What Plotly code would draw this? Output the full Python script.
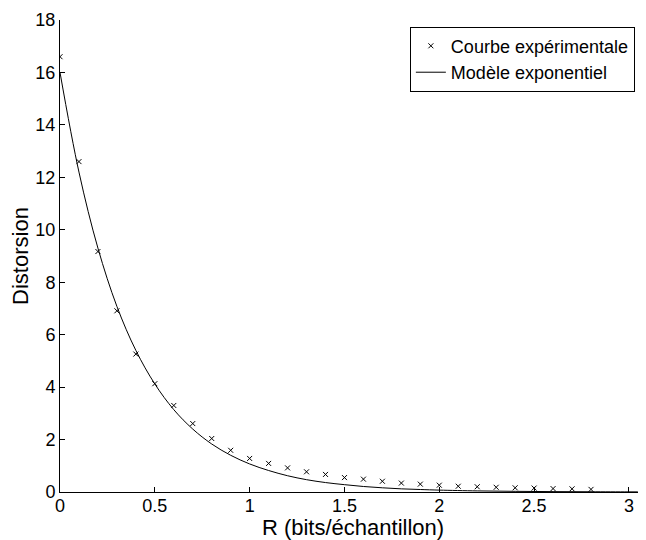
import plotly.graph_objects as go

# experimental points
r_exp = [0.0, 0.1, 0.2, 0.3, 0.4, 0.5, 0.6, 0.7, 0.8, 0.9, 1.0, 1.1, 1.2, 1.3, 1.4,
         1.5, 1.6, 1.7, 1.8, 1.9, 2.0, 2.1, 2.2, 2.3, 2.4, 2.5, 2.6, 2.7, 2.8]
d_exp = [16.6, 12.6, 9.17, 6.91, 5.26, 4.13, 3.30, 2.61, 2.04, 1.59, 1.28, 1.09, 0.92,
         0.77, 0.67, 0.55, 0.49, 0.41, 0.34, 0.30, 0.26, 0.22, 0.20, 0.18, 0.16, 0.15,
         0.13, 0.12, 0.10]

# exponential model
r_mod = [0.0, 0.1, 0.2, 0.3, 0.4, 0.5, 0.6, 0.7, 0.8, 0.9, 1.0, 1.1, 1.2, 1.3, 1.4,
         1.5, 1.6, 1.7, 1.8, 1.9, 2.0, 2.2, 2.4, 2.6, 2.8, 3.0, 3.1]
d_mod = [16.0, 12.2, 9.3, 7.08, 5.4, 4.12, 3.14, 2.4, 1.83, 1.4, 1.07, 0.82, 0.62,
         0.47, 0.36, 0.28, 0.21, 0.16, 0.12, 0.095, 0.072, 0.042, 0.025, 0.015,
         0.009, 0.005, 0.004]

fig = go.Figure()
fig.add_trace(go.Scatter(x=r_exp, y=d_exp, mode="markers", name="Courbe expérimentale",
                         marker=dict(symbol="x-thin-open", size=5, color="black",
                                     line=dict(color="black", width=1))))
fig.add_trace(go.Scatter(x=r_mod, y=d_mod, mode="lines", name="Modèle exponentiel",
                         line=dict(color="black", width=1, shape="spline")))

axis_font = dict(family="Liberation Sans, Arial", size=18, color="black")
# page body has an 8px margin, so the figure is shrunk by that much
fig.update_layout(
    width=638, height=532,
    margin=dict(l=52, r=0, t=12, b=48),
    plot_bgcolor="white", paper_bgcolor="white",
    font=axis_font,
    legend=dict(x=0.981, y=0.986, xanchor="right", yanchor="top",
                bordercolor="black", borderwidth=1, bgcolor="white",
                font=dict(family="Liberation Sans, Arial", size=18, color="black"),
                tracegroupgap=0, itemwidth=30),
)
fig.update_xaxes(range=[0, 3.09], tickvals=[0, 0.5, 1, 1.5, 2, 2.5, 3],
                 ticktext=["0", "0.5", "1", "1.5", "2", "2.5", "3"],
                 ticks="inside", ticklen=5, tickcolor="black", showline=True,
                 linecolor="black", linewidth=1, showgrid=False, zeroline=False,
                 ticklabelstandoff=-3,
                 title=dict(text="R (bits/échantillon)", standoff=0),
                 tickfont=axis_font, automargin=False)
fig.update_yaxes(range=[0, 18], tickvals=list(range(0, 19, 2)),
                 ticks="inside", ticklen=5, tickcolor="black", showline=True,
                 linecolor="black", linewidth=1, showgrid=False, zeroline=False,
                 title=dict(text="Distorsion", standoff=6),
                 tickfont=axis_font, automargin=False)

fig.write_html("out.html")
